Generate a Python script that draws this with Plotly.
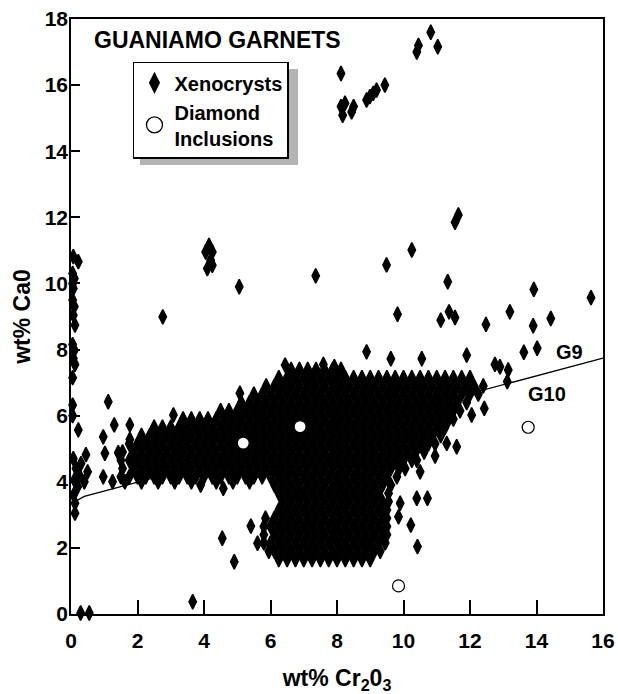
import plotly.graph_objects as go

# ---------------- data ----------------
# Dense xenocryst cloud, recorded row by row (CaO level -> Cr2O3 values)
row_y = [1.65, 1.9, 2.15, 2.4, 2.65, 2.9, 3.15, 3.4, 3.65, 3.9, 4.0,
         4.15, 4.4, 4.65, 4.9, 5.15, 5.4, 5.65, 5.9, 6.15, 6.4,
         6.65, 6.9, 7.15, 7.4]
row_x = [
    [6.25, 6.5, 6.75, 7.0, 7.25, 7.5, 7.75, 8.0, 8.25, 8.5, 8.75, 9.0],
    [5.95, 6.12, 6.37, 6.62, 6.87, 7.12, 7.37, 7.62, 7.87, 8.12, 8.37, 8.62, 8.87, 9.12, 9.3],
    [5.8, 6.0, 6.25, 6.5, 6.75, 7.0, 7.25, 7.5, 7.75, 8.0, 8.25, 8.5, 8.75, 9.0, 9.25, 9.45],
    [5.8, 6.12, 6.37, 6.62, 6.87, 7.12, 7.37, 7.62, 7.87, 8.12, 8.37, 8.62, 8.87, 9.12, 9.37, 9.5],
    [5.8, 6.0, 6.25, 6.5, 6.75, 7.0, 7.25, 7.5, 7.75, 8.0, 8.25, 8.5, 8.75, 9.0, 9.25, 9.5],
    [5.85, 6.12, 6.37, 6.62, 6.87, 7.12, 7.37, 7.62, 7.87, 8.12, 8.37, 8.62, 8.87, 9.12, 9.37, 9.5],
    [6.25, 6.5, 6.75, 7.0, 7.25, 7.5, 7.75, 8.0, 8.25, 8.5, 8.75, 9.0, 9.25, 9.5],
    [6.37, 6.62, 6.87, 7.12, 7.37, 7.62, 7.87, 8.12, 8.37, 8.62, 8.87, 9.12, 9.37, 9.55],
    [6.25, 6.5, 6.75, 7.0, 7.25, 7.5, 7.75, 8.0, 8.25, 8.5, 8.75, 9.0, 9.25, 9.55],
    [6.12, 6.37, 6.62, 6.87, 7.12, 7.37, 7.62, 7.87, 8.12, 8.37, 8.62, 8.87, 9.12, 9.37, 9.62],
    [1.62, 2.12, 2.62, 3.12, 3.62, 4.37, 4.87, 5.37],
    [1.5, 1.75, 2.0, 2.25, 2.5, 2.75, 3.0, 3.25, 3.5, 3.75, 4.0, 4.25, 4.5, 4.75, 5.0, 5.25,
     5.5, 5.75, 6.0, 6.25, 6.5, 6.75, 7.0, 7.25, 7.5, 7.75, 8.0, 8.25, 8.5, 8.75, 9.0, 9.25,
     9.5, 9.8],
    [1.55, 1.87, 2.12, 2.37, 2.62, 2.87, 3.12, 3.37, 3.62, 3.87, 4.12, 4.37, 4.62, 4.87, 5.12,
     5.37, 5.62, 5.87, 6.12, 6.37, 6.62, 6.87, 7.12, 7.37, 7.62, 7.87, 8.12, 8.37, 8.62, 8.87,
     9.12, 9.37, 9.62, 9.87, 10.05],
    [1.5, 1.75, 2.0, 2.25, 2.5, 2.75, 3.0, 3.25, 3.5, 3.75, 4.0, 4.25, 4.5, 4.75, 5.0, 5.25,
     5.5, 5.75, 6.0, 6.25, 6.5, 6.75, 7.0, 7.25, 7.5, 7.75, 8.0, 8.25, 8.5, 8.75, 9.0, 9.25,
     9.5, 9.75, 10.0, 10.25, 10.4],
    [1.55, 1.87, 2.12, 2.37, 2.62, 2.87, 3.12, 3.37, 3.62, 3.87, 4.12, 4.37, 4.62, 4.87, 5.12,
     5.37, 5.62, 5.87, 6.12, 6.37, 6.62, 6.87, 7.12, 7.37, 7.62, 7.87, 8.12, 8.37, 8.62, 8.87,
     9.12, 9.37, 9.62, 9.87, 10.12, 10.37, 10.62],
    [1.75, 2.0, 2.25, 2.5, 2.75, 3.0, 3.25, 3.5, 3.75, 4.0, 4.25, 4.5, 4.75, 5.0, 5.25, 5.5,
     5.75, 6.0, 6.25, 6.5, 6.75, 7.0, 7.25, 7.5, 7.75, 8.0, 8.25, 8.5, 8.75, 9.0, 9.25, 9.5,
     9.75, 10.0, 10.25, 10.5, 10.75, 10.95],
    [2.12, 2.37, 2.62, 2.87, 3.12, 3.37, 3.62, 3.87, 4.12, 4.37, 4.62, 4.87, 5.12, 5.37, 5.62,
     5.87, 6.12, 6.37, 6.62, 6.87, 7.12, 7.37, 7.62, 7.87, 8.12, 8.37, 8.62, 8.87, 9.12, 9.37,
     9.62, 9.87, 10.12, 10.37, 10.62, 10.87, 11.12],
    [2.5, 2.75, 3.0, 3.25, 3.5, 3.75, 4.0, 4.25, 4.5, 4.75, 5.0, 5.25, 5.5, 5.75, 6.0, 6.25,
     6.5, 6.75, 7.0, 7.25, 7.5, 7.75, 8.0, 8.25, 8.5, 8.75, 9.0, 9.25, 9.5, 9.75, 10.0, 10.25,
     10.5, 10.75, 11.0, 11.25],
    [3.37, 3.62, 3.87, 4.12, 4.37, 4.62, 4.87, 5.12, 5.37, 5.62, 5.87, 6.12, 6.37, 6.62, 6.87,
     7.12, 7.37, 7.62, 7.87, 8.12, 8.37, 8.62, 8.87, 9.12, 9.37, 9.62, 9.87, 10.12, 10.37,
     10.62, 10.87, 11.12, 11.37, 11.5],
    [4.5, 4.75, 5.0, 5.25, 5.5, 5.75, 6.0, 6.25, 6.5, 6.75, 7.0, 7.25, 7.5, 7.75, 8.0, 8.25,
     8.5, 8.75, 9.0, 9.25, 9.5, 9.75, 10.0, 10.25, 10.5, 10.75, 11.0, 11.25, 11.5, 11.7],
    [5.12, 5.37, 5.62, 5.87, 6.12, 6.37, 6.62, 6.87, 7.12, 7.37, 7.62, 7.87, 8.12, 8.37, 8.62,
     8.87, 9.12, 9.37, 9.62, 9.87, 10.12, 10.37, 10.62, 10.87, 11.12, 11.37, 11.62, 11.9],
    [5.5, 5.75, 6.0, 6.25, 6.5, 6.75, 7.0, 7.25, 7.5, 7.75, 8.0, 8.25, 8.5, 8.75, 9.0, 9.25,
     9.5, 9.75, 10.0, 10.25, 10.5, 10.75, 11.0, 11.25, 11.5, 11.75, 12.0, 12.25],
    [5.87, 6.12, 6.37, 6.62, 6.87, 7.12, 7.37, 7.62, 7.87, 8.12, 8.37, 8.62, 8.87, 9.12, 9.37,
     9.62, 9.87, 10.12, 10.37, 10.62, 10.87, 11.12, 11.37, 11.62, 11.87, 12.12, 12.4],
    [6.25, 6.5, 6.75, 7.0, 7.25, 7.5, 7.75, 8.0, 8.25, 8.5, 8.75, 9.0, 9.25, 9.5, 9.75, 10.0,
     10.25, 10.5, 10.75, 11.0, 11.25, 11.5, 11.75, 12.0],
    [6.62, 6.87, 7.12, 7.37, 7.62, 7.87, 8.12],
]

# Low-Cr column near the CaO axis
left_x = [0.07, 0.22, 0.05, 0.1, 0.05, 0.07, 0.05, 0.1, 0.07, 0.12, 0.05, 0.1, 0.07, 0.12,
          0.05, 0.05, 0.05, 0.22, 0.07, 0.45, 0.3, 0.15, 0.5, 0.25, 0.1, 0.4, 0.2, 0.08,
          0.12, 0.12, 0.29, 0.55, 1.12, 0.97, 1.3, 1.77, 1.77, 1.02, 1.42, 0.97, 1.25]
left_y = [10.81, 10.66, 10.3, 10.15, 10.0, 9.85, 9.5, 9.3, 9.04, 8.74, 8.15, 7.98, 7.73, 7.55,
          7.15, 6.32, 6.0, 5.57, 4.7, 4.82, 4.55, 4.4, 4.3, 4.2, 4.05, 4.0, 3.85, 3.6,
          3.35, 3.05, 0.03, 0.03, 6.42, 5.36, 5.72, 5.72, 5.28, 4.86, 4.88, 4.15, 4.0]

# Scattered grains around the main cloud
edge_x = [3.08, 5.08, 6.44, 7.59, 7.92, 8.89, 9.62, 10.55, 11.9, 12.75, 12.9, 13.15, 13.12,
          12.43, 12.05, 11.6, 11.3, 10.95, 10.5, 3.66, 4.55, 4.91, 4.58, 3.9, 5.41, 5.61,
          10.4, 10.72, 9.9, 10.22, 10.42, 9.85]
edge_y = [6.02, 6.68, 7.53, 7.55, 7.48, 7.93, 7.72, 7.72, 7.83, 7.55, 7.48, 7.38, 7.03,
          6.22, 6.02, 5.06, 5.16, 4.78, 4.3, 0.37, 2.29, 1.58, 3.8, 3.9, 2.66, 2.14,
          3.5, 3.5, 3.35, 2.69, 2.04, 2.94]

# High-CaO grains
high_x = [2.76, 4.15, 4.05, 4.25, 4.2, 4.1, 4.25, 5.06, 7.36, 9.49, 10.25, 11.65, 11.55,
          11.33, 13.92, 15.64, 9.82, 11.12, 11.37, 11.55, 12.48, 13.2, 13.9, 14.43, 13.62,
          14.02, 8.12, 8.12, 8.24, 8.44, 8.17, 8.5, 8.89, 8.99, 9.09, 9.19, 9.44, 10.4,
          10.45, 10.82, 11.03]
high_y = [8.99, 11.15, 10.95, 10.95, 10.7, 10.45, 10.55, 9.9, 10.23, 10.56, 11.01, 12.07,
          11.85, 10.05, 9.82, 9.57, 9.07, 8.89, 9.14, 8.97, 8.76, 9.14, 8.72, 8.94, 7.92,
          8.04, 16.35, 15.35, 15.45, 15.19, 15.09, 15.35, 15.55, 15.65, 15.75, 15.85, 16.0,
          17.0, 17.2, 17.6, 17.16]

# Garnet inclusions in diamond
incl_x = [5.18, 6.89, 9.85, 13.75]
incl_y = [5.17, 5.67, 0.85, 5.65]

# G9 / G10 boundary line
g_line_x = [0.08, 0.4, 16.0]
g_line_y = [3.38, 3.56, 7.74]

x_ticks = [0, 2, 4, 6, 8, 10, 12, 14, 16]
y_ticks = [0, 2, 4, 6, 8, 10, 12, 14, 16, 18]

# ---------------- figure ----------------
FONT = "Liberation Sans, Arial, Helvetica, sans-serif"

xs, ys = [], []
for yv, row in zip(row_y, row_x):
    for xv in row:
        xs.append(xv)
        ys.append(yv)
xs += left_x + edge_x + high_x
ys += left_y + edge_y + high_y

fig = go.Figure()
fig.add_trace(go.Scatter(
    x=xs, y=ys, mode="markers", showlegend=False, hoverinfo="skip",
    cliponaxis=False,
    marker=dict(symbol="diamond-tall", size=10.5, color="black",
                line=dict(color="black", width=1.5)),
))
fig.add_trace(go.Scatter(
    x=g_line_x, y=g_line_y, mode="lines", showlegend=False, hoverinfo="skip",
    line=dict(color="black", width=1.3),
))
fig.add_trace(go.Scatter(
    x=incl_x, y=incl_y, mode="markers", showlegend=False, hoverinfo="skip",
    cliponaxis=False,
    marker=dict(symbol="circle", size=12, color="white",
                line=dict(color="black", width=1.2)),
))
# legend entries
fig.add_trace(go.Scatter(
    x=[None], y=[None], mode="markers", name="Xenocrysts",
    marker=dict(symbol="diamond-tall", size=16, color="black"),
))
fig.add_trace(go.Scatter(
    x=[None], y=[None], mode="markers", name="Diamond<br>Inclusions",
    marker=dict(symbol="circle", size=16, color="white",
                line=dict(color="black", width=1.3)),
))

axis_common = dict(
    showgrid=False, zeroline=False, showline=True, linecolor="black",
    linewidth=1.5, mirror=True, ticks="inside", tickcolor="black",
    tickwidth=1.5, automargin=False,
    tickfont=dict(family=FONT, size=21, color="black", weight="bold"),
)

fig.update_layout(
    width=618, height=694, autosize=False,
    margin=dict(l=71, r=15, t=19, b=80),
    paper_bgcolor="white", plot_bgcolor="white",
    xaxis=dict(range=[0, 16], tickvals=x_ticks, ticklen=14,
               ticklabelstandoff=7,
               title=dict(text="wt% Cr<sub>2</sub>0<sub>3</sub>", standoff=24,
                          font=dict(family=FONT, size=23, color="black", weight="bold")),
               **axis_common),
    yaxis=dict(range=[0, 18], tickvals=y_ticks, ticklen=9,
               ticklabelstandoff=-3,
               title=dict(text="wt% Ca0", standoff=8,
                          font=dict(family=FONT, size=23, color="black", weight="bold")),
               **axis_common),
    legend=dict(x=0.1165, y=0.928, xanchor="left", yanchor="top",
                bgcolor="white", bordercolor="black", borderwidth=1.5,
                font=dict(family=FONT, size=20, color="black", weight="bold"),
                tracegroupgap=0, itemwidth=30),
    shapes=[dict(type="rect", xref="paper", yref="paper",
                 x0=0.1297, x1=0.4267, y0=0.7546, y1=0.916,
                 fillcolor="#b4b4b4", line=dict(width=0), layer="below")],
    annotations=[
        dict(text="GUANIAMO GARNETS", xref="paper", yref="paper", x=0.0395, y=0.9647,
             xanchor="left", yanchor="middle", showarrow=False,
             font=dict(family=FONT, size=23, color="black", weight="bold")),
        dict(text="G9", xref="x", yref="y", x=15.0, y=7.92, showarrow=False,
             font=dict(family=FONT, size=20, color="black", weight="bold")),
        dict(text="G10", xref="x", yref="y", x=14.32, y=6.65, showarrow=False,
             font=dict(family=FONT, size=20, color="black", weight="bold")),
    ],
)

fig.write_html("out.html")
